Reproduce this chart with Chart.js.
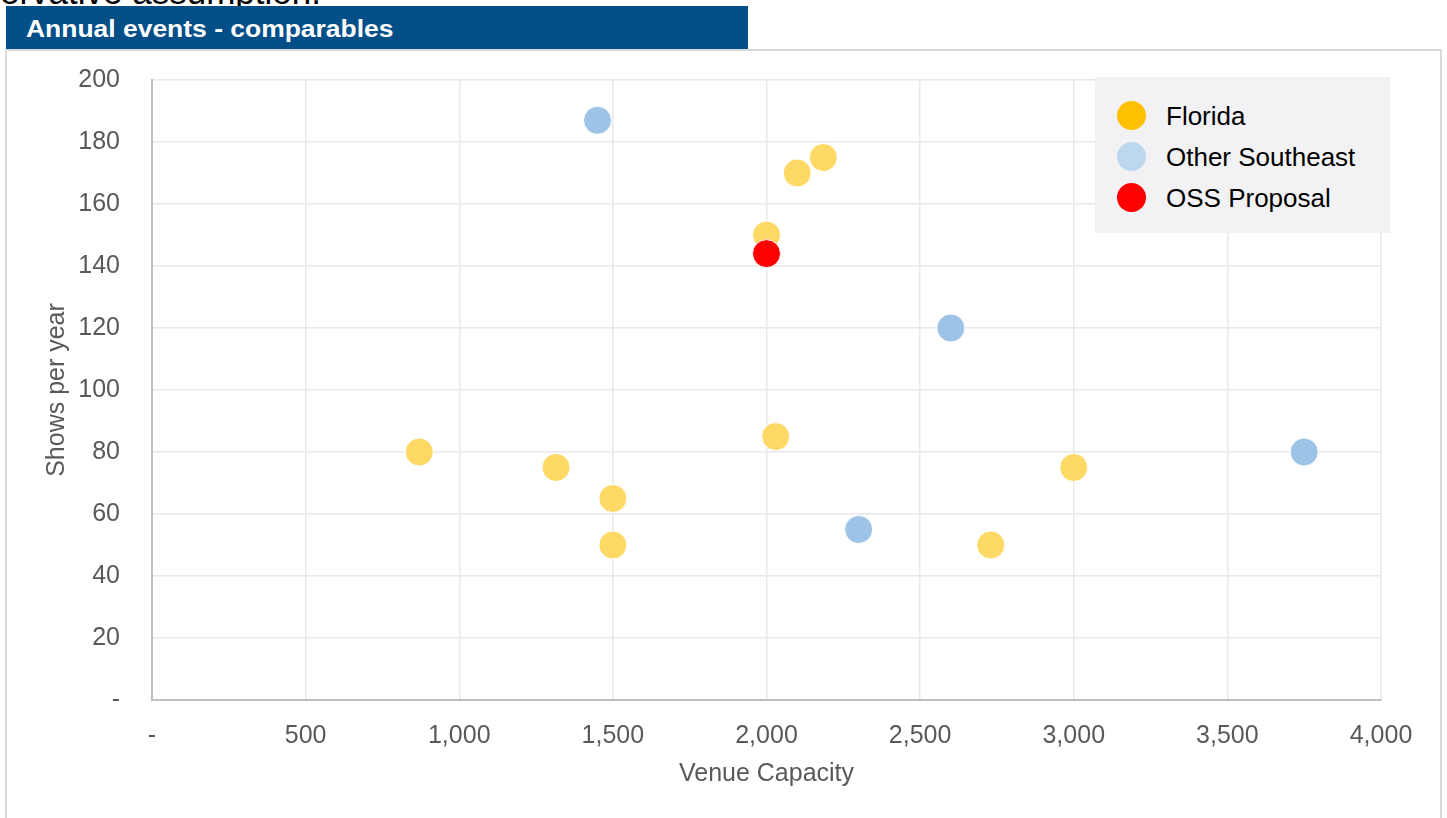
<!DOCTYPE html>
<html>
<head>
<meta charset="utf-8">
<title>Annual events - comparables</title>
<script src="https://cdn.jsdelivr.net/npm/chart.js@4/dist/chart.umd.min.js"></script>
<style>
  html, body { margin: 0; padding: 0; background: #ffffff; overflow: hidden; }
  body { width: 1447px; height: 818px; position: relative; font-family: "Liberation Sans", Arial, sans-serif; }
  #lead {
    position: absolute; left: -74px; top: -28px; white-space: nowrap;
    font-size: 35px; color: #000; line-height: 40px;
  }
  #frame {
    position: absolute; left: 5px; top: 49px; width: 1437px; height: 800px;
    border: 2px solid #DADADA; box-sizing: border-box;
  }
  #banner {
    position: absolute; left: 6px; top: 6px; width: 742px; height: 43px;
    background: #044F88;
  }
  #banner span {
    position: absolute; left: 20px; top: 9px; white-space: nowrap;
    color: #ffffff; font-weight: bold; font-size: 23px; line-height: 28px;
    transform: scaleX(1.15); transform-origin: left center;
  }
  #chart { position: absolute; left: 0; top: 0; }
  #legend {
    position: absolute; left: 1095px; top: 77px; width: 295px; height: 156px;
    background: #F2F2F4; box-sizing: border-box; padding-top: 18px;
  }
  #legend .row { position: relative; height: 41px; }
  #legend .dot {
    position: absolute; left: 22px; top: 6px; width: 29px; height: 29px; border-radius: 50%;
  }
  #legend .txt {
    position: absolute; left: 71px; top: 5px; font-size: 26px; line-height: 32px; color: #000; white-space: nowrap;
  }
</style>
</head>
<body>
<div id="lead">conservative assumption.</div>
<div id="frame"></div>
<div id="banner"><span>Annual events - comparables</span></div>
<canvas id="chart" width="1447" height="818"></canvas>
<div id="legend"></div>
<script>
// Venue capacity (x) and shows per year (y) for each group of venues
const floridaCapacity = [870, 1315, 1500, 1500, 2000, 2100, 2185, 2030, 2730, 3000];
const floridaShows    = [80, 75, 65, 50, 150, 170, 175, 85, 50, 75];

const southeastCapacity = [1450, 2600, 2300, 3750];
const southeastShows    = [187, 120, 55, 80];

const proposalCapacity = [2000];
const proposalShows    = [144];

const seriesNames = ['Florida', 'Other Southeast', 'OSS Proposal'];

const xTicks = [0, 500, 1000, 1500, 2000, 2500, 3000, 3500, 4000];
const yTicks = [0, 20, 40, 60, 80, 100, 120, 140, 160, 180, 200];

// Point fill and the stronger swatch colour shown in the key
const pointColors  = ['#FFD966', '#9DC3E6', '#FF0000'];
const legendColors = ['#FFC000', '#BDD7EE', '#FF0000'];

function toPoints(xs, ys) {
  return xs.map((x, i) => ({ x: x, y: ys[i] }));
}

function dashZero(v) {
  return v === 0 ? '-' : Number(v).toLocaleString('en-US');
}

const tickFont = { family: '"Liberation Sans", Arial, sans-serif', size: 25 };

const datasets = [
  toPoints(floridaCapacity, floridaShows),
  toPoints(southeastCapacity, southeastShows),
  toPoints(proposalCapacity, proposalShows)
].map((pts, i) => ({
  label: seriesNames[i],
  data: pts,
  backgroundColor: pointColors[i],
  borderColor: '#ffffff',
  borderWidth: 1,
  pointRadius: 14,
  pointHoverRadius: 14,
  order: 3 - i
}));

const chart = new Chart(document.getElementById('chart'), {
  type: 'scatter',
  data: { datasets: datasets },
  options: {
    responsive: false,
    animation: false,
    events: [],
    layout: { padding: { top: 80, right: 66, left: 0, bottom: 0 } },
    plugins: { legend: { display: false }, tooltip: { enabled: false } },
    scales: {
      x: {
        type: 'linear',
        min: 0, max: 4000,
        afterBuildTicks: s => { s.ticks = xTicks.map(v => ({ value: v })); },
        afterFit: s => { s.height = 118; },
        ticks: { callback: dashZero, color: '#595959', font: tickFont, padding: 21, maxRotation: 0 },
        grid: { color: '#E8E8E8', lineWidth: 1.5, drawTicks: false },
        border: { color: '#BFBFBF', width: 2 },
        title: { display: true, text: 'Venue Capacity', color: '#595959', font: tickFont, padding: { top: 0, bottom: 29 } }
      },
      y: {
        type: 'linear',
        min: 0, max: 200,
        afterBuildTicks: s => { s.ticks = yTicks.map(v => ({ value: v })); },
        afterFit: s => { s.width = 152; },
        ticks: { callback: dashZero, color: '#595959', font: tickFont, padding: 32 },
        grid: { color: '#E8E8E8', lineWidth: 1.5, drawTicks: false },
        border: { color: '#BFBFBF', width: 2 },
        title: { display: true, text: 'Shows per year', color: '#595959', font: tickFont, padding: { top: 42, bottom: 0 } }
      }
    }
  }
});

// Key built from the chart's own datasets
const legendBox = document.getElementById('legend');
chart.data.datasets.forEach((ds, i) => {
  const row = document.createElement('div');
  row.className = 'row';
  const dot = document.createElement('div');
  dot.className = 'dot';
  dot.style.background = legendColors[i];
  const txt = document.createElement('div');
  txt.className = 'txt';
  txt.textContent = ds.label;
  row.appendChild(dot);
  row.appendChild(txt);
  legendBox.appendChild(row);
});
</script>
</body>
</html>
